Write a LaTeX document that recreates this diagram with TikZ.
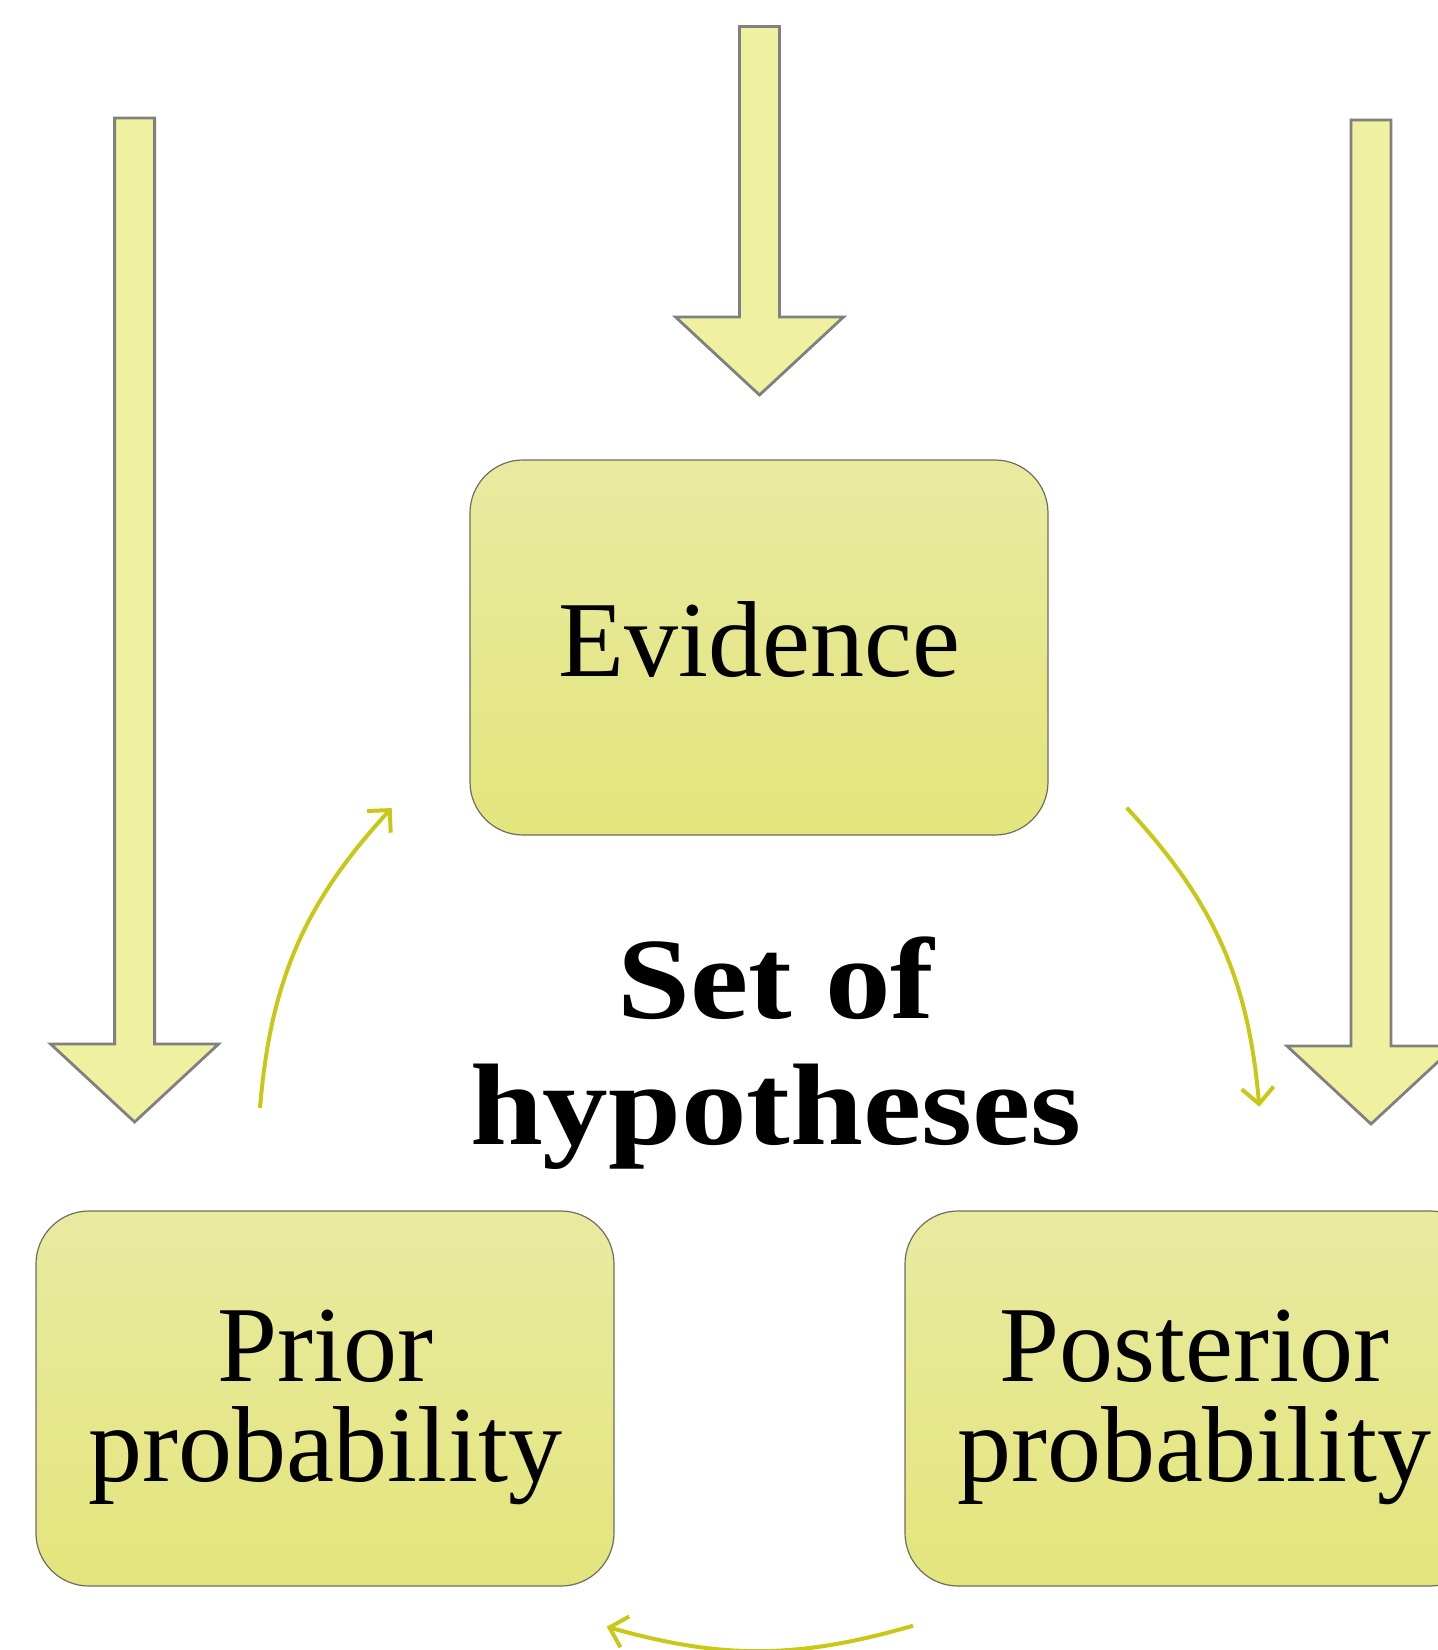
\documentclass[tikz,border=0pt]{standalone}
\usepackage{fontspec}
\setmainfont{Liberation Serif}
\newfontfamily\hipfont[FakeStretch=1.13]{Liberation Serif}
\usetikzlibrary{arrows.meta,positioning}
\definecolor{caixatopo}{RGB}{233,234,160}
\definecolor{caixabase}{RGB}{227,229,124}
\definecolor{caixaborda}{RGB}{110,110,95}
\definecolor{blocofundo}{RGB}{239,240,160}
\definecolor{blocoborda}{RGB}{128,128,128}
\definecolor{ciclo}{RGB}{200,200,24}

\begin{document}
\begin{tikzpicture}[
	x=0.5pt, y=-0.5pt,
	>={Straight Barb[length=8pt,width=16pt]},
	etapa/.style={rectangle, rounded corners=26.5pt, draw=caixaborda, line width=0.6pt, top color=caixatopo, bottom color=caixabase, minimum width=289pt, minimum height=187.5pt, align=center, inner sep=0pt, font=\fontsize{54}{50}\selectfont},
	bloco/.style={draw=blocoborda, fill=blocofundo, line width=1.4pt},
	seta/.style={->, line width=2pt, ciclo},
]
\useasboundingbox (0,0) rectangle (1438,1650);

% setas grandes
\foreach \cx/\ty/\wy in {134.6/118/1044, 759.5/26.5/317, 1371/120/1046}
	\draw[bloco] ({\cx-20},\ty) -- ({\cx+20},\ty) -- ({\cx+20},\wy) -- ({\cx+84},\wy) -- (\cx,{\wy+78}) -- ({\cx-84},\wy) -- ({\cx-20},\wy) -- cycle;

\node[etapa, text depth=8pt] (evid) at (759,647.5) {Evidence};
\node[etapa, text depth=3pt] (prior) at (325,1398.5) {Prior\\probability};
\node[etapa, text depth=3pt] (post) at (1194,1398.5) {Posterior\\probability};

\node[align=center, inner sep=0pt, font=\hipfont\bfseries\fontsize{58}{63}\selectfont] (hip) at (776,1053.5) {Set of\\hypotheses};

% ciclo
\coordinate (l1) at (260,1108);
\coordinate (l2) at (391.7,808);
\coordinate (r1) at (1126.7,807.7);
\coordinate (r2) at (1259.3,1106.7);
\coordinate (b1) at (913,1625.7);
\coordinate (b2) at (606.7,1626.7);

\draw[seta] (l1) to[bend left=19] (l2);
\draw[seta] (r1) to[bend left=19] (r2);
\draw[seta] (b1) to[bend left=16] (b2);
\end{tikzpicture}
\end{document}
